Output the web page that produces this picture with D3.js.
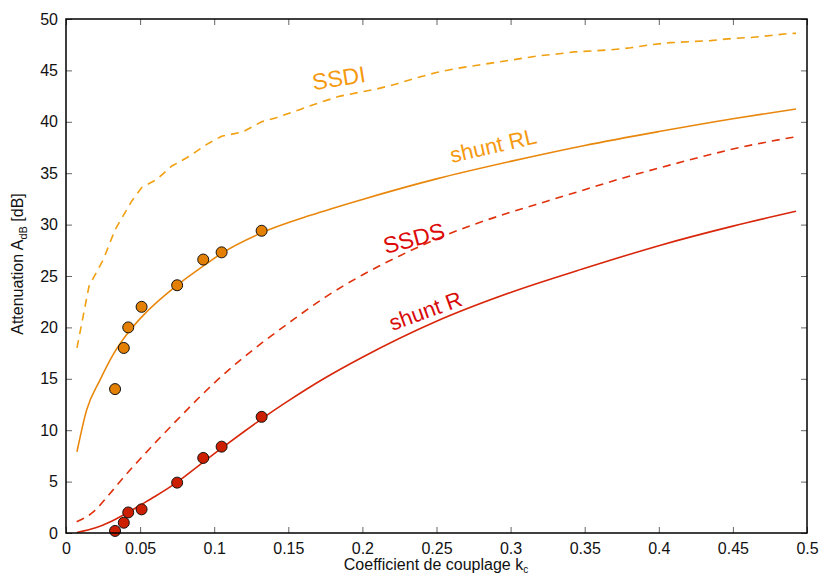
<!DOCTYPE html>
<html><head><meta charset="utf-8">
<script src="https://cdn.jsdelivr.net/npm/d3@7"></script>
<style>body{margin:0;background:#fff}svg{display:block}text{font-family:"Liberation Sans",Arial,sans-serif}</style>
</head><body><svg id="c" width="819" height="576"></svg>
<script>
const xTicks=[0,0.05,0.1,0.15,0.2,0.25,0.3,0.35,0.4,0.45,0.5];
const yTicks=[0,5,10,15,20,25,30,35,40,45,50];
const ssdiX=[0.0074,0.0155,0.0252,0.0331,0.0444,0.0511,0.0613,0.0714,0.0815,0.095,0.105,0.119,0.132,0.142,0.158,0.1716,0.185,0.199,0.21,0.2235,0.237,0.25,0.264,0.2775,0.291,0.3045,0.318,0.3315,0.343,0.3676,0.381,0.3946,0.408,0.4216,0.435,0.449,0.462,0.4757,0.489,0.4926];
const ssdiY=[18.0,24.0,26.6,29.5,32.3,33.6,34.4,35.7,36.5,37.8,38.6,39.0,40.0,40.4,41.2,41.9,42.5,42.9,43.2,43.7,44.3,44.8,45.2,45.5,45.8,46.1,46.4,46.6,46.8,47.0,47.2,47.5,47.7,47.8,47.9,48.1,48.2,48.4,48.6,48.6];
const rlX=[0.0074,0.014,0.023,0.032,0.042,0.051,0.075,0.093,0.105,0.132,0.165,0.2,0.25,0.3,0.35,0.4,0.45,0.4926];
const rlY=[7.9,12.0,14.9,17.4,19.5,21.0,24.1,26.0,27.2,29.2,30.9,32.45,34.45,36.15,37.7,39.05,40.3,41.25];
const ssdsX=[0.0072,0.018,0.03,0.04,0.05,0.06,0.075,0.09,0.105,0.12,0.135,0.15,0.175,0.2,0.225,0.25,0.275,0.3,0.325,0.35,0.375,0.4,0.425,0.45,0.4926];
const ssdsY=[1.1,2.0,3.9,5.6,7.2,8.75,11.0,13.2,15.25,17.1,18.8,20.4,22.95,25.1,26.95,28.6,30.0,31.2,32.3,33.4,34.5,35.5,36.45,37.35,38.55];
const rX=[0.0074,0.02,0.03,0.04,0.05,0.06,0.075,0.09,0.105,0.12,0.135,0.15,0.175,0.2,0.25,0.3,0.35,0.4,0.45,0.4926];
const rY=[0.05,0.5,1.1,1.85,2.7,3.55,4.95,6.6,8.25,9.85,11.4,12.85,15.1,17.1,20.6,23.4,25.75,27.95,29.85,31.3];
const expX=[0.0331,0.039,0.042,0.051,0.075,0.0926,0.105,0.132];
const expRL=[14.0,18.0,20.0,22.0,24.1,26.6,27.3,29.4];
const expR=[0.2,1.0,2.0,2.3,4.9,7.3,8.4,11.3];

const svg=d3.select("#c");
const L=66,R=807,T=19,B=533;
const x=d3.scaleLinear().domain([0,0.5]).range([L,R]);
const y=d3.scaleLinear().domain([0,50]).range([B,T]);

const zip=(a,b)=>a.map((v,i)=>[v,b[i]]);
const lineLin=d3.line().x(d=>x(d[0])).y(d=>y(d[1]));
const lineSm=d3.line().x(d=>x(d[0])).y(d=>y(d[1])).curve(d3.curveMonotoneX);

const g=svg.append("g");
g.append("path").attr("d",lineLin(zip(ssdiX,ssdiY))).attr("fill","none").attr("stroke","#f0a010").attr("stroke-width",1.6).attr("stroke-dasharray","8,6");
g.append("path").attr("d",lineSm(zip(rlX,rlY))).attr("fill","none").attr("stroke","#e8870c").attr("stroke-width",1.6);
g.append("path").attr("d",lineSm(zip(ssdsX,ssdsY))).attr("fill","none").attr("stroke","#e0300c").attr("stroke-width",1.6).attr("stroke-dasharray","8,6");
g.append("path").attr("d",lineSm(zip(rX,rY))).attr("fill","none").attr("stroke","#d8260a").attr("stroke-width",1.6);

g.selectAll("circle.rl").data(zip(expX,expRL)).join("circle").attr("class","rl")
 .attr("cx",d=>x(d[0])).attr("cy",d=>y(d[1])).attr("r",5.5).attr("fill","#e38002").attr("stroke","#111").attr("stroke-width",1);
g.selectAll("circle.r").data(zip(expX,expR)).join("circle").attr("class","r")
 .attr("cx",d=>x(d[0])).attr("cy",d=>y(d[1])).attr("r",5.5).attr("fill","#cc1f00").attr("stroke","#111").attr("stroke-width",1);

// axes
const tickLen=6;
const ax=svg.append("g").attr("transform",`translate(0,${B})`).call(d3.axisBottom(x).tickValues(xTicks).tickFormat(d=>d3.format("")(+d.toFixed(2))).tickSizeInner(-tickLen).tickSizeOuter(0).tickPadding(10));
const ay=svg.append("g").attr("transform",`translate(${L},0)`).call(d3.axisLeft(y).tickValues(yTicks).tickSizeInner(-tickLen).tickSizeOuter(0).tickPadding(8));
const axT=svg.append("g").attr("transform",`translate(0,${T})`).call(d3.axisTop(x).tickValues(xTicks).tickFormat("").tickSizeInner(-tickLen).tickSizeOuter(0));
const ayR=svg.append("g").attr("transform",`translate(${R},0)`).call(d3.axisRight(y).tickValues(yTicks).tickFormat("").tickSizeInner(-tickLen).tickSizeOuter(0));
[ax,ay,axT,ayR].forEach(a=>{a.select(".domain").remove();a.selectAll("line").attr("stroke","#666");a.selectAll("text").attr("font-size",16).attr("fill","#111").attr("font-family","Liberation Sans, Arial, sans-serif");});
svg.append("rect").attr("x",L).attr("y",T).attr("width",R-L).attr("height",B-T).attr("fill","none").attr("stroke","#000").attr("stroke-width",1.5);

// axis labels
const xl=svg.append("text").attr("x",436).attr("y",570).attr("text-anchor","middle").attr("font-size",16).attr("fill","#111");
xl.append("tspan").text("Coefficient de couplage k");
xl.append("tspan").attr("dy",3).attr("font-size",10).text("c");
const yl=svg.append("text").attr("transform","translate(23,264) rotate(-90)").attr("text-anchor","middle").attr("font-size",16).attr("fill","#111");
yl.append("tspan").text("Attenuation A");
yl.append("tspan").attr("dy",4).attr("font-size",11).text("dB");
yl.append("tspan").attr("dy",-4).text(" [dB]");

// curve labels
const lab=(t,cx,cy,rot,col,fs)=>svg.append("text").attr("transform",`translate(${cx},${cy}) rotate(${rot})`).attr("text-anchor","middle").attr("font-size",fs).attr("fill",col).text(t);
lab("SSDI",340,86,-9,"#f59a10",23);
lab("shunt RL",495,153,-13,"#f59a10",22);
lab("SSDS",416,246,-15,"#dd0a0a",23);
lab("shunt R",428,318,-20,"#d80a0a",22);
</script></body></html>
